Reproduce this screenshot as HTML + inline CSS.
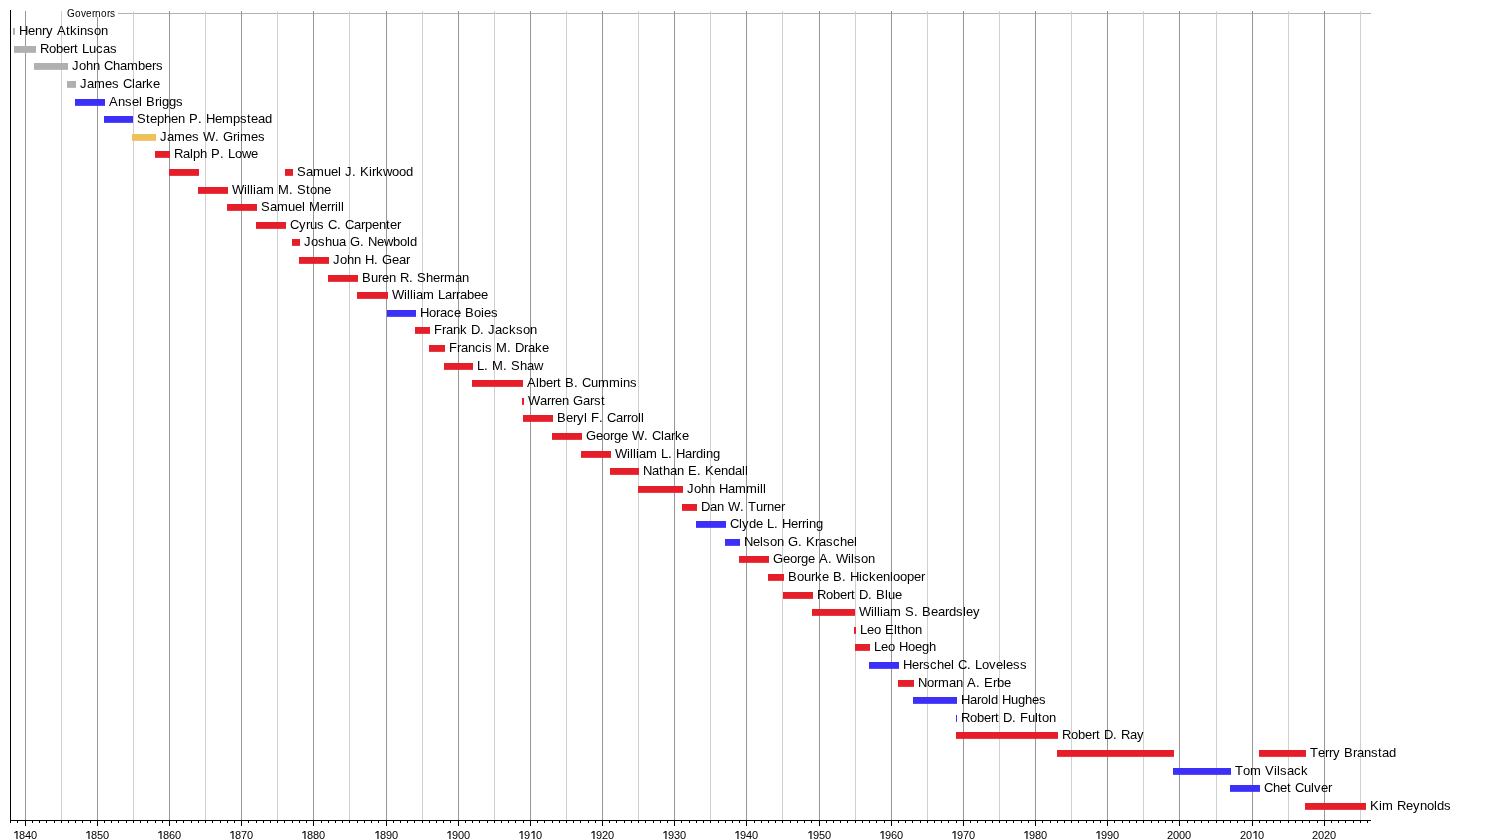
<!DOCTYPE html>
<html><head><meta charset="utf-8"><title>Governors of Iowa timeline</title>
<style>
html,body{margin:0;padding:0;background:#fff;width:1500px;height:840px;overflow:hidden}
svg{display:block;will-change:transform}
text{font-family:"Liberation Sans",sans-serif;fill:#000}
.l{font-size:13px}
.y{font-size:11px}
</style></head><body>
<svg width="1500" height="840" viewBox="0 0 1500 840">
<rect width="1500" height="840" fill="#fff"/>

<line x1="118" y1="13.5" x2="1371" y2="13.5" stroke="#b3b3b3" stroke-width="1"/>
<line x1="25.50" y1="11" x2="25.50" y2="820" stroke="#979797" stroke-width="1"/>
<line x1="61.50" y1="11" x2="61.50" y2="820" stroke="#d0d0d0" stroke-width="1"/>
<line x1="97.50" y1="11" x2="97.50" y2="820" stroke="#979797" stroke-width="1"/>
<line x1="133.50" y1="11" x2="133.50" y2="820" stroke="#d0d0d0" stroke-width="1"/>
<line x1="169.50" y1="11" x2="169.50" y2="820" stroke="#979797" stroke-width="1"/>
<line x1="205.50" y1="11" x2="205.50" y2="820" stroke="#d0d0d0" stroke-width="1"/>
<line x1="241.50" y1="11" x2="241.50" y2="820" stroke="#979797" stroke-width="1"/>
<line x1="277.50" y1="11" x2="277.50" y2="820" stroke="#d0d0d0" stroke-width="1"/>
<line x1="313.50" y1="11" x2="313.50" y2="820" stroke="#979797" stroke-width="1"/>
<line x1="349.50" y1="11" x2="349.50" y2="820" stroke="#d0d0d0" stroke-width="1"/>
<line x1="386.50" y1="11" x2="386.50" y2="820" stroke="#979797" stroke-width="1"/>
<line x1="422.50" y1="11" x2="422.50" y2="820" stroke="#d0d0d0" stroke-width="1"/>
<line x1="458.50" y1="11" x2="458.50" y2="820" stroke="#979797" stroke-width="1"/>
<line x1="494.50" y1="11" x2="494.50" y2="820" stroke="#d0d0d0" stroke-width="1"/>
<line x1="530.50" y1="11" x2="530.50" y2="820" stroke="#979797" stroke-width="1"/>
<line x1="566.50" y1="11" x2="566.50" y2="820" stroke="#d0d0d0" stroke-width="1"/>
<line x1="602.50" y1="11" x2="602.50" y2="820" stroke="#979797" stroke-width="1"/>
<line x1="638.50" y1="11" x2="638.50" y2="820" stroke="#d0d0d0" stroke-width="1"/>
<line x1="674.50" y1="11" x2="674.50" y2="820" stroke="#979797" stroke-width="1"/>
<line x1="710.50" y1="11" x2="710.50" y2="820" stroke="#d0d0d0" stroke-width="1"/>
<line x1="746.50" y1="11" x2="746.50" y2="820" stroke="#979797" stroke-width="1"/>
<line x1="782.50" y1="11" x2="782.50" y2="820" stroke="#d0d0d0" stroke-width="1"/>
<line x1="819.50" y1="11" x2="819.50" y2="820" stroke="#979797" stroke-width="1"/>
<line x1="855.50" y1="11" x2="855.50" y2="820" stroke="#d0d0d0" stroke-width="1"/>
<line x1="891.50" y1="11" x2="891.50" y2="820" stroke="#979797" stroke-width="1"/>
<line x1="927.50" y1="11" x2="927.50" y2="820" stroke="#d0d0d0" stroke-width="1"/>
<line x1="963.50" y1="11" x2="963.50" y2="820" stroke="#979797" stroke-width="1"/>
<line x1="999.50" y1="11" x2="999.50" y2="820" stroke="#d0d0d0" stroke-width="1"/>
<line x1="1035.50" y1="11" x2="1035.50" y2="820" stroke="#979797" stroke-width="1"/>
<line x1="1071.50" y1="11" x2="1071.50" y2="820" stroke="#d0d0d0" stroke-width="1"/>
<line x1="1107.50" y1="11" x2="1107.50" y2="820" stroke="#979797" stroke-width="1"/>
<line x1="1143.50" y1="11" x2="1143.50" y2="820" stroke="#d0d0d0" stroke-width="1"/>
<line x1="1179.50" y1="11" x2="1179.50" y2="820" stroke="#979797" stroke-width="1"/>
<line x1="1216.50" y1="11" x2="1216.50" y2="820" stroke="#d0d0d0" stroke-width="1"/>
<line x1="1252.50" y1="11" x2="1252.50" y2="820" stroke="#979797" stroke-width="1"/>
<line x1="1288.50" y1="11" x2="1288.50" y2="820" stroke="#d0d0d0" stroke-width="1"/>
<line x1="1324.50" y1="11" x2="1324.50" y2="820" stroke="#979797" stroke-width="1"/>
<line x1="1360.50" y1="11" x2="1360.50" y2="820" stroke="#d0d0d0" stroke-width="1"/>
<rect x="62" y="8" width="55" height="9" fill="#fff"/>
<text x="67 75 81 86 92 95 101 107 110" y="17" style="font-size:10px">Governors</text>
<rect x="13" y="28" width="2" height="6.85" fill="#b0b0b0"/>
<text class="l" x="19 28 35 42 46 53 57 66 70 77 80 87 94 101" y="35">Henry Atkinson</text>
<rect x="14" y="46" width="22" height="6.85" fill="#b0b0b0"/>
<text class="l" x="40 49 56 63 70 74 78 82 89 96 103 110" y="53">Robert Lucas</text>
<rect x="34" y="63" width="34" height="6.85" fill="#b0b0b0"/>
<text class="l" x="72 79 86 93 100 104 113 120 127 138 145 152 156" y="70">John Chambers</text>
<rect x="67" y="81" width="9" height="6.85" fill="#b0b0b0"/>
<text class="l" x="80 87 94 105 112 119 123 132 135 142 146 153" y="88">James Clarke</text>
<rect x="75" y="99" width="30" height="6.85" fill="#3c30f8"/>
<text class="l" x="109 118 125 132 139 142 146 155 159 162 169 176" y="106">Ansel Briggs</text>
<rect x="104" y="116" width="29" height="6.85" fill="#3c30f8"/>
<text class="l" x="137 146 150 157 164 171 178 185 189 198 202 206 215 222 233 240 247 251 258 265" y="123">Stephen P. Hempstead</text>
<rect x="132" y="134" width="24" height="6.85" fill="#f0c05a"/>
<text class="l" x="160 167 174 185 192 199 203 215 219 223 233 237 240 251 258" y="141">James W. Grimes</text>
<rect x="155" y="151" width="15" height="6.85" fill="#e51e2a"/>
<text class="l" x="174 183 190 193 200 207 211 220 224 228 235 242 251" y="158">Ralph P. Lowe</text>
<rect x="169" y="169" width="30" height="6.85" fill="#e51e2a"/>
<rect x="285" y="169" width="8" height="6.85" fill="#e51e2a"/>
<text class="l" x="297 306 313 324 331 338 341 345 352 356 360 369 372 376 383 392 399 406" y="176">Samuel J. Kirkwood</text>
<rect x="198" y="187" width="30" height="6.85" fill="#e51e2a"/>
<text class="l" x="232 244 247 250 253 256 263 274 278 289 293 297 306 310 317 324" y="194">William M. Stone</text>
<rect x="227" y="204" width="30" height="6.85" fill="#e51e2a"/>
<text class="l" x="261 270 277 288 295 302 305 309 320 327 331 335 338 341" y="211">Samuel Merrill</text>
<rect x="256" y="222" width="30" height="6.85" fill="#e51e2a"/>
<text class="l" x="290 299 306 310 317 324 328 337 341 345 354 361 365 372 379 386 390 397" y="229">Cyrus C. Carpenter</text>
<rect x="292" y="239" width="8" height="6.85" fill="#e51e2a"/>
<text class="l" x="304 311 318 325 332 339 346 350 360 364 368 377 384 393 400 407 410" y="246">Joshua G. Newbold</text>
<rect x="299" y="257" width="30" height="6.85" fill="#e51e2a"/>
<text class="l" x="333 340 347 354 361 365 374 378 382 392 399 406" y="264">John H. Gear</text>
<rect x="328" y="275" width="30" height="6.85" fill="#e51e2a"/>
<text class="l" x="362 371 378 382 389 396 400 409 413 417 426 433 440 444 455 462" y="282">Buren R. Sherman</text>
<rect x="357" y="292" width="31" height="6.85" fill="#e51e2a"/>
<text class="l" x="392 404 407 410 413 416 423 434 438 445 452 456 460 467 474 481" y="299">William Larrabee</text>
<rect x="387" y="310" width="29" height="6.85" fill="#3c30f8"/>
<text class="l" x="420 429 436 440 447 454 461 465 474 481 484 491" y="317">Horace Boies</text>
<rect x="415" y="327" width="15" height="6.85" fill="#e51e2a"/>
<text class="l" x="434 442 446 453 460 467 471 480 484 488 495 502 509 516 523 530" y="334">Frank D. Jackson</text>
<rect x="429" y="345" width="16" height="6.85" fill="#e51e2a"/>
<text class="l" x="449 457 461 468 475 482 485 492 496 507 511 515 524 528 535 542" y="352">Francis M. Drake</text>
<rect x="444" y="363" width="29" height="6.85" fill="#e51e2a"/>
<text class="l" x="477 484 488 492 503 507 511 520 527 534" y="370">L. M. Shaw</text>
<rect x="472" y="380" width="51" height="6.85" fill="#e51e2a"/>
<text class="l" x="527 536 539 546 553 557 561 565 574 578 582 591 598 609 620 623 630" y="387">Albert B. Cummins</text>
<rect x="522" y="398" width="2" height="6.85" fill="#e51e2a"/>
<text class="l" x="528 540 547 551 555 562 569 573 583 590 594 601" y="405">Warren Garst</text>
<rect x="523" y="415" width="30" height="6.85" fill="#e51e2a"/>
<text class="l" x="557 566 573 577 584 587 591 599 603 607 616 623 627 631 638 641" y="422">Beryl F. Carroll</text>
<rect x="552" y="433" width="30" height="6.85" fill="#e51e2a"/>
<text class="l" x="586 596 603 610 614 621 628 632 644 648 652 661 664 671 675 682" y="440">George W. Clarke</text>
<rect x="581" y="451" width="30" height="6.85" fill="#e51e2a"/>
<text class="l" x="615 627 630 633 636 639 646 657 661 668 672 676 685 692 696 703 706 713" y="458">William L. Harding</text>
<rect x="610" y="468" width="29" height="6.85" fill="#e51e2a"/>
<text class="l" x="643 652 659 663 670 677 684 688 697 701 705 714 721 728 735 742 745" y="475">Nathan E. Kendall</text>
<rect x="638" y="486" width="45" height="6.85" fill="#e51e2a"/>
<text class="l" x="687 694 701 708 715 719 728 735 746 757 760 763" y="493">John Hammill</text>
<rect x="682" y="504" width="15" height="6.85" fill="#e51e2a"/>
<text class="l" x="701 710 717 724 728 740 744 748 756 763 767 774 781" y="511">Dan W. Turner</text>
<rect x="696" y="521" width="30" height="6.85" fill="#3c30f8"/>
<text class="l" x="730 739 742 749 756 763 767 774 778 782 791 798 802 806 809 816" y="528">Clyde L. Herring</text>
<rect x="725" y="539" width="15" height="6.85" fill="#3c30f8"/>
<text class="l" x="744 753 760 763 770 777 784 788 798 802 806 815 819 826 833 840 847 854" y="546">Nelson G. Kraschel</text>
<rect x="739" y="556" width="30" height="6.85" fill="#e51e2a"/>
<text class="l" x="773 783 790 797 801 808 815 819 828 832 836 848 851 854 861 868" y="563">George A. Wilson</text>
<rect x="768" y="574" width="16" height="6.85" fill="#e51e2a"/>
<text class="l" x="788 797 804 811 815 822 829 833 842 846 850 859 862 869 876 883 890 893 900 907 914 921" y="581">Bourke B. Hickenlooper</text>
<rect x="783" y="592" width="30" height="6.85" fill="#e51e2a"/>
<text class="l" x="817 826 833 840 847 851 855 859 868 872 876 885 888 895" y="599">Robert D. Blue</text>
<rect x="812" y="609" width="43" height="6.85" fill="#e51e2a"/>
<text class="l" x="859 871 874 877 880 883 890 901 905 914 918 922 931 938 945 949 956 963 966 973" y="616">William S. Beardsley</text>
<rect x="854" y="627" width="2" height="6.85" fill="#e51e2a"/>
<text class="l" x="860 867 874 881 885 894 897 901 908 915" y="634">Leo Elthon</text>
<rect x="855" y="644" width="15" height="6.85" fill="#e51e2a"/>
<text class="l" x="874 881 888 895 899 908 915 922 929" y="651">Leo Hoegh</text>
<rect x="869" y="662" width="30" height="6.85" fill="#3c30f8"/>
<text class="l" x="903 912 919 923 930 937 944 951 954 958 967 971 975 982 989 996 1003 1006 1013 1020" y="669">Herschel C. Loveless</text>
<rect x="898" y="680" width="16" height="6.85" fill="#e51e2a"/>
<text class="l" x="918 927 934 938 949 956 963 967 976 980 984 993 997 1004" y="687">Norman A. Erbe</text>
<rect x="913" y="697" width="44" height="6.85" fill="#3c30f8"/>
<text class="l" x="961 970 977 981 988 991 998 1002 1011 1018 1025 1032 1039" y="704">Harold Hughes</text>
<rect x="956" y="715" width="1" height="6.85" fill="#3c30f8"/>
<text class="l" x="961 970 977 984 991 995 999 1003 1012 1016 1020 1028 1035 1038 1042 1049" y="722">Robert D. Fulton</text>
<rect x="956" y="732" width="102" height="6.85" fill="#e51e2a"/>
<text class="l" x="1062 1071 1078 1085 1092 1096 1100 1104 1113 1117 1121 1130 1137" y="739">Robert D. Ray</text>
<rect x="1057" y="750" width="117" height="6.85" fill="#e51e2a"/>
<rect x="1259" y="750" width="47" height="6.85" fill="#e51e2a"/>
<text class="l" x="1310 1318 1325 1329 1333 1340 1344 1353 1357 1364 1371 1378 1382 1389" y="757">Terry Branstad</text>
<rect x="1173" y="768" width="58" height="6.85" fill="#3c30f8"/>
<text class="l" x="1235 1243 1250 1261 1265 1274 1277 1280 1287 1294 1301" y="775">Tom Vilsack</text>
<rect x="1230" y="785" width="30" height="6.85" fill="#3c30f8"/>
<text class="l" x="1264 1273 1280 1287 1291 1295 1304 1311 1314 1321 1328" y="792">Chet Culver</text>
<rect x="1305" y="803" width="61" height="6.85" fill="#e51e2a"/>
<text class="l" x="1370 1379 1382 1393 1397 1406 1413 1420 1427 1434 1437 1444" y="810">Kim Reynolds</text>
<line x1="10.5" y1="10" x2="10.5" y2="821" stroke="#000" stroke-width="1"/>
<line x1="10" y1="820.5" x2="1371" y2="820.5" stroke="#000" stroke-width="1"/>
<line x1="10.50" y1="820.5" x2="10.50" y2="823" stroke="#000" stroke-width="1"/>
<line x1="17.50" y1="820.5" x2="17.50" y2="823" stroke="#000" stroke-width="1"/>
<line x1="25.50" y1="820.5" x2="25.50" y2="826" stroke="#000" stroke-width="1"/>
<line x1="32.50" y1="820.5" x2="32.50" y2="823" stroke="#000" stroke-width="1"/>
<line x1="39.50" y1="820.5" x2="39.50" y2="823" stroke="#000" stroke-width="1"/>
<line x1="46.50" y1="820.5" x2="46.50" y2="823" stroke="#000" stroke-width="1"/>
<line x1="54.50" y1="820.5" x2="54.50" y2="823" stroke="#000" stroke-width="1"/>
<line x1="61.50" y1="820.5" x2="61.50" y2="823" stroke="#000" stroke-width="1"/>
<line x1="68.50" y1="820.5" x2="68.50" y2="823" stroke="#000" stroke-width="1"/>
<line x1="75.50" y1="820.5" x2="75.50" y2="823" stroke="#000" stroke-width="1"/>
<line x1="82.50" y1="820.5" x2="82.50" y2="823" stroke="#000" stroke-width="1"/>
<line x1="90.50" y1="820.5" x2="90.50" y2="823" stroke="#000" stroke-width="1"/>
<line x1="97.50" y1="820.5" x2="97.50" y2="826" stroke="#000" stroke-width="1"/>
<line x1="104.50" y1="820.5" x2="104.50" y2="823" stroke="#000" stroke-width="1"/>
<line x1="111.50" y1="820.5" x2="111.50" y2="823" stroke="#000" stroke-width="1"/>
<line x1="118.50" y1="820.5" x2="118.50" y2="823" stroke="#000" stroke-width="1"/>
<line x1="126.50" y1="820.5" x2="126.50" y2="823" stroke="#000" stroke-width="1"/>
<line x1="133.50" y1="820.5" x2="133.50" y2="823" stroke="#000" stroke-width="1"/>
<line x1="140.50" y1="820.5" x2="140.50" y2="823" stroke="#000" stroke-width="1"/>
<line x1="147.50" y1="820.5" x2="147.50" y2="823" stroke="#000" stroke-width="1"/>
<line x1="155.50" y1="820.5" x2="155.50" y2="823" stroke="#000" stroke-width="1"/>
<line x1="162.50" y1="820.5" x2="162.50" y2="823" stroke="#000" stroke-width="1"/>
<line x1="169.50" y1="820.5" x2="169.50" y2="826" stroke="#000" stroke-width="1"/>
<line x1="176.50" y1="820.5" x2="176.50" y2="823" stroke="#000" stroke-width="1"/>
<line x1="183.50" y1="820.5" x2="183.50" y2="823" stroke="#000" stroke-width="1"/>
<line x1="191.50" y1="820.5" x2="191.50" y2="823" stroke="#000" stroke-width="1"/>
<line x1="198.50" y1="820.5" x2="198.50" y2="823" stroke="#000" stroke-width="1"/>
<line x1="205.50" y1="820.5" x2="205.50" y2="823" stroke="#000" stroke-width="1"/>
<line x1="212.50" y1="820.5" x2="212.50" y2="823" stroke="#000" stroke-width="1"/>
<line x1="220.50" y1="820.5" x2="220.50" y2="823" stroke="#000" stroke-width="1"/>
<line x1="227.50" y1="820.5" x2="227.50" y2="823" stroke="#000" stroke-width="1"/>
<line x1="234.50" y1="820.5" x2="234.50" y2="823" stroke="#000" stroke-width="1"/>
<line x1="241.50" y1="820.5" x2="241.50" y2="826" stroke="#000" stroke-width="1"/>
<line x1="248.50" y1="820.5" x2="248.50" y2="823" stroke="#000" stroke-width="1"/>
<line x1="256.50" y1="820.5" x2="256.50" y2="823" stroke="#000" stroke-width="1"/>
<line x1="263.50" y1="820.5" x2="263.50" y2="823" stroke="#000" stroke-width="1"/>
<line x1="270.50" y1="820.5" x2="270.50" y2="823" stroke="#000" stroke-width="1"/>
<line x1="277.50" y1="820.5" x2="277.50" y2="823" stroke="#000" stroke-width="1"/>
<line x1="284.50" y1="820.5" x2="284.50" y2="823" stroke="#000" stroke-width="1"/>
<line x1="292.50" y1="820.5" x2="292.50" y2="823" stroke="#000" stroke-width="1"/>
<line x1="299.50" y1="820.5" x2="299.50" y2="823" stroke="#000" stroke-width="1"/>
<line x1="306.50" y1="820.5" x2="306.50" y2="823" stroke="#000" stroke-width="1"/>
<line x1="313.50" y1="820.5" x2="313.50" y2="826" stroke="#000" stroke-width="1"/>
<line x1="321.50" y1="820.5" x2="321.50" y2="823" stroke="#000" stroke-width="1"/>
<line x1="328.50" y1="820.5" x2="328.50" y2="823" stroke="#000" stroke-width="1"/>
<line x1="335.50" y1="820.5" x2="335.50" y2="823" stroke="#000" stroke-width="1"/>
<line x1="342.50" y1="820.5" x2="342.50" y2="823" stroke="#000" stroke-width="1"/>
<line x1="349.50" y1="820.5" x2="349.50" y2="823" stroke="#000" stroke-width="1"/>
<line x1="357.50" y1="820.5" x2="357.50" y2="823" stroke="#000" stroke-width="1"/>
<line x1="364.50" y1="820.5" x2="364.50" y2="823" stroke="#000" stroke-width="1"/>
<line x1="371.50" y1="820.5" x2="371.50" y2="823" stroke="#000" stroke-width="1"/>
<line x1="378.50" y1="820.5" x2="378.50" y2="823" stroke="#000" stroke-width="1"/>
<line x1="386.50" y1="820.5" x2="386.50" y2="826" stroke="#000" stroke-width="1"/>
<line x1="393.50" y1="820.5" x2="393.50" y2="823" stroke="#000" stroke-width="1"/>
<line x1="400.50" y1="820.5" x2="400.50" y2="823" stroke="#000" stroke-width="1"/>
<line x1="407.50" y1="820.5" x2="407.50" y2="823" stroke="#000" stroke-width="1"/>
<line x1="414.50" y1="820.5" x2="414.50" y2="823" stroke="#000" stroke-width="1"/>
<line x1="422.50" y1="820.5" x2="422.50" y2="823" stroke="#000" stroke-width="1"/>
<line x1="429.50" y1="820.5" x2="429.50" y2="823" stroke="#000" stroke-width="1"/>
<line x1="436.50" y1="820.5" x2="436.50" y2="823" stroke="#000" stroke-width="1"/>
<line x1="443.50" y1="820.5" x2="443.50" y2="823" stroke="#000" stroke-width="1"/>
<line x1="450.50" y1="820.5" x2="450.50" y2="823" stroke="#000" stroke-width="1"/>
<line x1="458.50" y1="820.5" x2="458.50" y2="826" stroke="#000" stroke-width="1"/>
<line x1="465.50" y1="820.5" x2="465.50" y2="823" stroke="#000" stroke-width="1"/>
<line x1="472.50" y1="820.5" x2="472.50" y2="823" stroke="#000" stroke-width="1"/>
<line x1="479.50" y1="820.5" x2="479.50" y2="823" stroke="#000" stroke-width="1"/>
<line x1="487.50" y1="820.5" x2="487.50" y2="823" stroke="#000" stroke-width="1"/>
<line x1="494.50" y1="820.5" x2="494.50" y2="823" stroke="#000" stroke-width="1"/>
<line x1="501.50" y1="820.5" x2="501.50" y2="823" stroke="#000" stroke-width="1"/>
<line x1="508.50" y1="820.5" x2="508.50" y2="823" stroke="#000" stroke-width="1"/>
<line x1="515.50" y1="820.5" x2="515.50" y2="823" stroke="#000" stroke-width="1"/>
<line x1="523.50" y1="820.5" x2="523.50" y2="823" stroke="#000" stroke-width="1"/>
<line x1="530.50" y1="820.5" x2="530.50" y2="826" stroke="#000" stroke-width="1"/>
<line x1="537.50" y1="820.5" x2="537.50" y2="823" stroke="#000" stroke-width="1"/>
<line x1="544.50" y1="820.5" x2="544.50" y2="823" stroke="#000" stroke-width="1"/>
<line x1="552.50" y1="820.5" x2="552.50" y2="823" stroke="#000" stroke-width="1"/>
<line x1="559.50" y1="820.5" x2="559.50" y2="823" stroke="#000" stroke-width="1"/>
<line x1="566.50" y1="820.5" x2="566.50" y2="823" stroke="#000" stroke-width="1"/>
<line x1="573.50" y1="820.5" x2="573.50" y2="823" stroke="#000" stroke-width="1"/>
<line x1="580.50" y1="820.5" x2="580.50" y2="823" stroke="#000" stroke-width="1"/>
<line x1="588.50" y1="820.5" x2="588.50" y2="823" stroke="#000" stroke-width="1"/>
<line x1="595.50" y1="820.5" x2="595.50" y2="823" stroke="#000" stroke-width="1"/>
<line x1="602.50" y1="820.5" x2="602.50" y2="826" stroke="#000" stroke-width="1"/>
<line x1="609.50" y1="820.5" x2="609.50" y2="823" stroke="#000" stroke-width="1"/>
<line x1="616.50" y1="820.5" x2="616.50" y2="823" stroke="#000" stroke-width="1"/>
<line x1="624.50" y1="820.5" x2="624.50" y2="823" stroke="#000" stroke-width="1"/>
<line x1="631.50" y1="820.5" x2="631.50" y2="823" stroke="#000" stroke-width="1"/>
<line x1="638.50" y1="820.5" x2="638.50" y2="823" stroke="#000" stroke-width="1"/>
<line x1="645.50" y1="820.5" x2="645.50" y2="823" stroke="#000" stroke-width="1"/>
<line x1="653.50" y1="820.5" x2="653.50" y2="823" stroke="#000" stroke-width="1"/>
<line x1="660.50" y1="820.5" x2="660.50" y2="823" stroke="#000" stroke-width="1"/>
<line x1="667.50" y1="820.5" x2="667.50" y2="823" stroke="#000" stroke-width="1"/>
<line x1="674.50" y1="820.5" x2="674.50" y2="826" stroke="#000" stroke-width="1"/>
<line x1="681.50" y1="820.5" x2="681.50" y2="823" stroke="#000" stroke-width="1"/>
<line x1="689.50" y1="820.5" x2="689.50" y2="823" stroke="#000" stroke-width="1"/>
<line x1="696.50" y1="820.5" x2="696.50" y2="823" stroke="#000" stroke-width="1"/>
<line x1="703.50" y1="820.5" x2="703.50" y2="823" stroke="#000" stroke-width="1"/>
<line x1="710.50" y1="820.5" x2="710.50" y2="823" stroke="#000" stroke-width="1"/>
<line x1="718.50" y1="820.5" x2="718.50" y2="823" stroke="#000" stroke-width="1"/>
<line x1="725.50" y1="820.5" x2="725.50" y2="823" stroke="#000" stroke-width="1"/>
<line x1="732.50" y1="820.5" x2="732.50" y2="823" stroke="#000" stroke-width="1"/>
<line x1="739.50" y1="820.5" x2="739.50" y2="823" stroke="#000" stroke-width="1"/>
<line x1="746.50" y1="820.5" x2="746.50" y2="826" stroke="#000" stroke-width="1"/>
<line x1="754.50" y1="820.5" x2="754.50" y2="823" stroke="#000" stroke-width="1"/>
<line x1="761.50" y1="820.5" x2="761.50" y2="823" stroke="#000" stroke-width="1"/>
<line x1="768.50" y1="820.5" x2="768.50" y2="823" stroke="#000" stroke-width="1"/>
<line x1="775.50" y1="820.5" x2="775.50" y2="823" stroke="#000" stroke-width="1"/>
<line x1="782.50" y1="820.5" x2="782.50" y2="823" stroke="#000" stroke-width="1"/>
<line x1="790.50" y1="820.5" x2="790.50" y2="823" stroke="#000" stroke-width="1"/>
<line x1="797.50" y1="820.5" x2="797.50" y2="823" stroke="#000" stroke-width="1"/>
<line x1="804.50" y1="820.5" x2="804.50" y2="823" stroke="#000" stroke-width="1"/>
<line x1="811.50" y1="820.5" x2="811.50" y2="823" stroke="#000" stroke-width="1"/>
<line x1="819.50" y1="820.5" x2="819.50" y2="826" stroke="#000" stroke-width="1"/>
<line x1="826.50" y1="820.5" x2="826.50" y2="823" stroke="#000" stroke-width="1"/>
<line x1="833.50" y1="820.5" x2="833.50" y2="823" stroke="#000" stroke-width="1"/>
<line x1="840.50" y1="820.5" x2="840.50" y2="823" stroke="#000" stroke-width="1"/>
<line x1="847.50" y1="820.5" x2="847.50" y2="823" stroke="#000" stroke-width="1"/>
<line x1="855.50" y1="820.5" x2="855.50" y2="823" stroke="#000" stroke-width="1"/>
<line x1="862.50" y1="820.5" x2="862.50" y2="823" stroke="#000" stroke-width="1"/>
<line x1="869.50" y1="820.5" x2="869.50" y2="823" stroke="#000" stroke-width="1"/>
<line x1="876.50" y1="820.5" x2="876.50" y2="823" stroke="#000" stroke-width="1"/>
<line x1="884.50" y1="820.5" x2="884.50" y2="823" stroke="#000" stroke-width="1"/>
<line x1="891.50" y1="820.5" x2="891.50" y2="826" stroke="#000" stroke-width="1"/>
<line x1="898.50" y1="820.5" x2="898.50" y2="823" stroke="#000" stroke-width="1"/>
<line x1="905.50" y1="820.5" x2="905.50" y2="823" stroke="#000" stroke-width="1"/>
<line x1="912.50" y1="820.5" x2="912.50" y2="823" stroke="#000" stroke-width="1"/>
<line x1="920.50" y1="820.5" x2="920.50" y2="823" stroke="#000" stroke-width="1"/>
<line x1="927.50" y1="820.5" x2="927.50" y2="823" stroke="#000" stroke-width="1"/>
<line x1="934.50" y1="820.5" x2="934.50" y2="823" stroke="#000" stroke-width="1"/>
<line x1="941.50" y1="820.5" x2="941.50" y2="823" stroke="#000" stroke-width="1"/>
<line x1="948.50" y1="820.5" x2="948.50" y2="823" stroke="#000" stroke-width="1"/>
<line x1="956.50" y1="820.5" x2="956.50" y2="823" stroke="#000" stroke-width="1"/>
<line x1="963.50" y1="820.5" x2="963.50" y2="826" stroke="#000" stroke-width="1"/>
<line x1="970.50" y1="820.5" x2="970.50" y2="823" stroke="#000" stroke-width="1"/>
<line x1="977.50" y1="820.5" x2="977.50" y2="823" stroke="#000" stroke-width="1"/>
<line x1="985.50" y1="820.5" x2="985.50" y2="823" stroke="#000" stroke-width="1"/>
<line x1="992.50" y1="820.5" x2="992.50" y2="823" stroke="#000" stroke-width="1"/>
<line x1="999.50" y1="820.5" x2="999.50" y2="823" stroke="#000" stroke-width="1"/>
<line x1="1006.50" y1="820.5" x2="1006.50" y2="823" stroke="#000" stroke-width="1"/>
<line x1="1013.50" y1="820.5" x2="1013.50" y2="823" stroke="#000" stroke-width="1"/>
<line x1="1021.50" y1="820.5" x2="1021.50" y2="823" stroke="#000" stroke-width="1"/>
<line x1="1028.50" y1="820.5" x2="1028.50" y2="823" stroke="#000" stroke-width="1"/>
<line x1="1035.50" y1="820.5" x2="1035.50" y2="826" stroke="#000" stroke-width="1"/>
<line x1="1042.50" y1="820.5" x2="1042.50" y2="823" stroke="#000" stroke-width="1"/>
<line x1="1050.50" y1="820.5" x2="1050.50" y2="823" stroke="#000" stroke-width="1"/>
<line x1="1057.50" y1="820.5" x2="1057.50" y2="823" stroke="#000" stroke-width="1"/>
<line x1="1064.50" y1="820.5" x2="1064.50" y2="823" stroke="#000" stroke-width="1"/>
<line x1="1071.50" y1="820.5" x2="1071.50" y2="823" stroke="#000" stroke-width="1"/>
<line x1="1078.50" y1="820.5" x2="1078.50" y2="823" stroke="#000" stroke-width="1"/>
<line x1="1086.50" y1="820.5" x2="1086.50" y2="823" stroke="#000" stroke-width="1"/>
<line x1="1093.50" y1="820.5" x2="1093.50" y2="823" stroke="#000" stroke-width="1"/>
<line x1="1100.50" y1="820.5" x2="1100.50" y2="823" stroke="#000" stroke-width="1"/>
<line x1="1107.50" y1="820.5" x2="1107.50" y2="826" stroke="#000" stroke-width="1"/>
<line x1="1114.50" y1="820.5" x2="1114.50" y2="823" stroke="#000" stroke-width="1"/>
<line x1="1122.50" y1="820.5" x2="1122.50" y2="823" stroke="#000" stroke-width="1"/>
<line x1="1129.50" y1="820.5" x2="1129.50" y2="823" stroke="#000" stroke-width="1"/>
<line x1="1136.50" y1="820.5" x2="1136.50" y2="823" stroke="#000" stroke-width="1"/>
<line x1="1143.50" y1="820.5" x2="1143.50" y2="823" stroke="#000" stroke-width="1"/>
<line x1="1151.50" y1="820.5" x2="1151.50" y2="823" stroke="#000" stroke-width="1"/>
<line x1="1158.50" y1="820.5" x2="1158.50" y2="823" stroke="#000" stroke-width="1"/>
<line x1="1165.50" y1="820.5" x2="1165.50" y2="823" stroke="#000" stroke-width="1"/>
<line x1="1172.50" y1="820.5" x2="1172.50" y2="823" stroke="#000" stroke-width="1"/>
<line x1="1179.50" y1="820.5" x2="1179.50" y2="826" stroke="#000" stroke-width="1"/>
<line x1="1187.50" y1="820.5" x2="1187.50" y2="823" stroke="#000" stroke-width="1"/>
<line x1="1194.50" y1="820.5" x2="1194.50" y2="823" stroke="#000" stroke-width="1"/>
<line x1="1201.50" y1="820.5" x2="1201.50" y2="823" stroke="#000" stroke-width="1"/>
<line x1="1208.50" y1="820.5" x2="1208.50" y2="823" stroke="#000" stroke-width="1"/>
<line x1="1216.50" y1="820.5" x2="1216.50" y2="823" stroke="#000" stroke-width="1"/>
<line x1="1223.50" y1="820.5" x2="1223.50" y2="823" stroke="#000" stroke-width="1"/>
<line x1="1230.50" y1="820.5" x2="1230.50" y2="823" stroke="#000" stroke-width="1"/>
<line x1="1237.50" y1="820.5" x2="1237.50" y2="823" stroke="#000" stroke-width="1"/>
<line x1="1244.50" y1="820.5" x2="1244.50" y2="823" stroke="#000" stroke-width="1"/>
<line x1="1252.50" y1="820.5" x2="1252.50" y2="826" stroke="#000" stroke-width="1"/>
<line x1="1259.50" y1="820.5" x2="1259.50" y2="823" stroke="#000" stroke-width="1"/>
<line x1="1266.50" y1="820.5" x2="1266.50" y2="823" stroke="#000" stroke-width="1"/>
<line x1="1273.50" y1="820.5" x2="1273.50" y2="823" stroke="#000" stroke-width="1"/>
<line x1="1280.50" y1="820.5" x2="1280.50" y2="823" stroke="#000" stroke-width="1"/>
<line x1="1288.50" y1="820.5" x2="1288.50" y2="823" stroke="#000" stroke-width="1"/>
<line x1="1295.50" y1="820.5" x2="1295.50" y2="823" stroke="#000" stroke-width="1"/>
<line x1="1302.50" y1="820.5" x2="1302.50" y2="823" stroke="#000" stroke-width="1"/>
<line x1="1309.50" y1="820.5" x2="1309.50" y2="823" stroke="#000" stroke-width="1"/>
<line x1="1317.50" y1="820.5" x2="1317.50" y2="823" stroke="#000" stroke-width="1"/>
<line x1="1324.50" y1="820.5" x2="1324.50" y2="826" stroke="#000" stroke-width="1"/>
<line x1="1331.50" y1="820.5" x2="1331.50" y2="823" stroke="#000" stroke-width="1"/>
<line x1="1338.50" y1="820.5" x2="1338.50" y2="823" stroke="#000" stroke-width="1"/>
<line x1="1345.50" y1="820.5" x2="1345.50" y2="823" stroke="#000" stroke-width="1"/>
<line x1="1353.50" y1="820.5" x2="1353.50" y2="823" stroke="#000" stroke-width="1"/>
<line x1="1360.50" y1="820.5" x2="1360.50" y2="823" stroke="#000" stroke-width="1"/>
<line x1="1367.50" y1="820.5" x2="1367.50" y2="823" stroke="#000" stroke-width="1"/>
<text class="y" x="19 25 31" y="839">840</text>
<path d="M16.40 831 h1.15 v8 h-1.15 Z M16.40 831 L16.80 831 L16.80 832.1 L14.40 833.4 L14.40 832.3 Z" fill="#000"/>
<text class="y" x="91 97 103" y="839">850</text>
<path d="M88.40 831 h1.15 v8 h-1.15 Z M88.40 831 L88.80 831 L88.80 832.1 L86.40 833.4 L86.40 832.3 Z" fill="#000"/>
<text class="y" x="163 169 175" y="839">860</text>
<path d="M160.40 831 h1.15 v8 h-1.15 Z M160.40 831 L160.80 831 L160.80 832.1 L158.40 833.4 L158.40 832.3 Z" fill="#000"/>
<text class="y" x="235 241 247" y="839">870</text>
<path d="M232.40 831 h1.15 v8 h-1.15 Z M232.40 831 L232.80 831 L232.80 832.1 L230.40 833.4 L230.40 832.3 Z" fill="#000"/>
<text class="y" x="307 313 319" y="839">880</text>
<path d="M304.40 831 h1.15 v8 h-1.15 Z M304.40 831 L304.80 831 L304.80 832.1 L302.40 833.4 L302.40 832.3 Z" fill="#000"/>
<text class="y" x="380 386 392" y="839">890</text>
<path d="M377.40 831 h1.15 v8 h-1.15 Z M377.40 831 L377.80 831 L377.80 832.1 L375.40 833.4 L375.40 832.3 Z" fill="#000"/>
<text class="y" x="452 458 464" y="839">900</text>
<path d="M449.40 831 h1.15 v8 h-1.15 Z M449.40 831 L449.80 831 L449.80 832.1 L447.40 833.4 L447.40 832.3 Z" fill="#000"/>
<text class="y" x="524 536" y="839">90</text>
<path d="M521.40 831 h1.15 v8 h-1.15 Z M521.40 831 L521.80 831 L521.80 832.1 L519.40 833.4 L519.40 832.3 Z" fill="#000"/>
<path d="M533.40 831 h1.15 v8 h-1.15 Z M533.40 831 L533.80 831 L533.80 832.1 L531.40 833.4 L531.40 832.3 Z" fill="#000"/>
<text class="y" x="596 602 608" y="839">920</text>
<path d="M593.40 831 h1.15 v8 h-1.15 Z M593.40 831 L593.80 831 L593.80 832.1 L591.40 833.4 L591.40 832.3 Z" fill="#000"/>
<text class="y" x="668 674 680" y="839">930</text>
<path d="M665.40 831 h1.15 v8 h-1.15 Z M665.40 831 L665.80 831 L665.80 832.1 L663.40 833.4 L663.40 832.3 Z" fill="#000"/>
<text class="y" x="740 746 752" y="839">940</text>
<path d="M737.40 831 h1.15 v8 h-1.15 Z M737.40 831 L737.80 831 L737.80 832.1 L735.40 833.4 L735.40 832.3 Z" fill="#000"/>
<text class="y" x="813 819 825" y="839">950</text>
<path d="M810.40 831 h1.15 v8 h-1.15 Z M810.40 831 L810.80 831 L810.80 832.1 L808.40 833.4 L808.40 832.3 Z" fill="#000"/>
<text class="y" x="885 891 897" y="839">960</text>
<path d="M882.40 831 h1.15 v8 h-1.15 Z M882.40 831 L882.80 831 L882.80 832.1 L880.40 833.4 L880.40 832.3 Z" fill="#000"/>
<text class="y" x="957 963 969" y="839">970</text>
<path d="M954.40 831 h1.15 v8 h-1.15 Z M954.40 831 L954.80 831 L954.80 832.1 L952.40 833.4 L952.40 832.3 Z" fill="#000"/>
<text class="y" x="1029 1035 1041" y="839">980</text>
<path d="M1026.40 831 h1.15 v8 h-1.15 Z M1026.40 831 L1026.80 831 L1026.80 832.1 L1024.40 833.4 L1024.40 832.3 Z" fill="#000"/>
<text class="y" x="1101 1107 1113" y="839">990</text>
<path d="M1098.40 831 h1.15 v8 h-1.15 Z M1098.40 831 L1098.80 831 L1098.80 832.1 L1096.40 833.4 L1096.40 832.3 Z" fill="#000"/>
<text class="y" x="1167 1173 1179 1185" y="839">2000</text>
<text class="y" x="1240 1246 1258" y="839">200</text>
<path d="M1255.40 831 h1.15 v8 h-1.15 Z M1255.40 831 L1255.80 831 L1255.80 832.1 L1253.40 833.4 L1253.40 832.3 Z" fill="#000"/>
<text class="y" x="1312 1318 1324 1330" y="839">2020</text>
</svg></body></html>
